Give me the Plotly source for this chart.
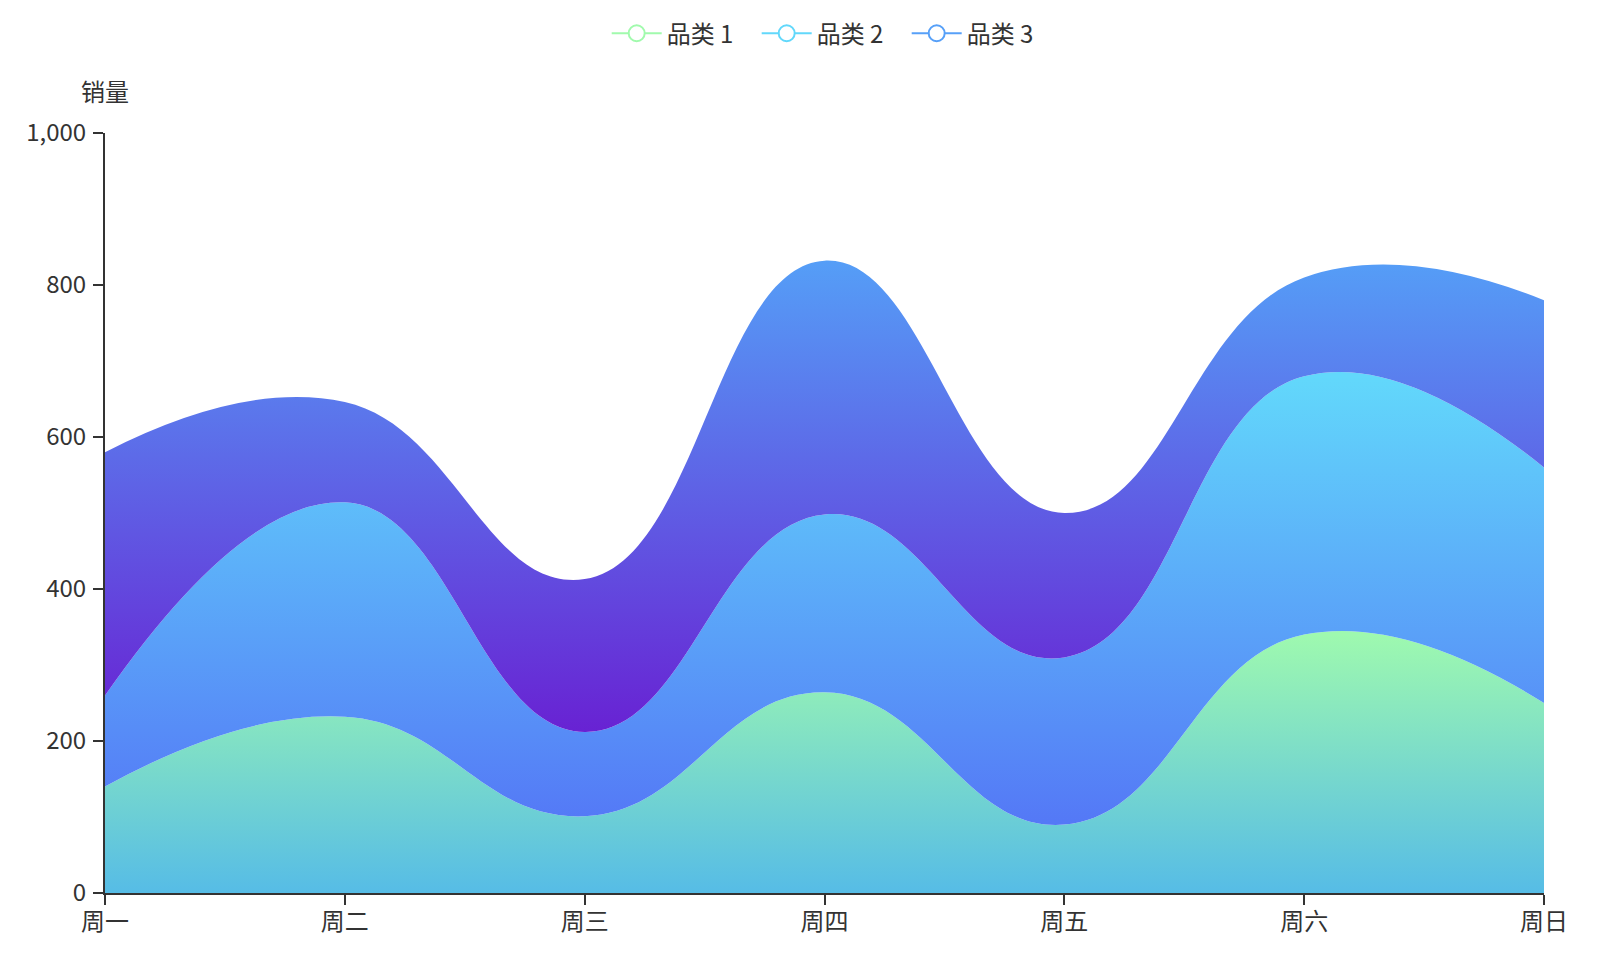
import plotly.graph_objects as go

days = ["周一", "周二", "周三", "周四", "周五", "周六", "周日"]
names = ["品类 1", "品类 2", "品类 3"]
s1 = [140, 232, 101, 264, 90, 340, 250]
s2 = [120, 282, 111, 234, 220, 340, 310]
s3 = [320, 132, 201, 334, 190, 130, 220]
series = [s1, s2, s3]
line_colors = ["rgb(161,250,173)", "rgb(98,216,251)", "rgb(87,160,248)"]
top_colors = ["rgb(158,249,175)", "rgb(98,216,251)", "rgb(85,158,247)"]
bottom_colors = ["rgb(86,188,230)", "rgb(84,120,246)", "rgb(104,34,211)"]
y_ticks = [0, 200, 400, 600, 800, 1000]

FONT = "Noto Sans CJK SC, Noto Sans, sans-serif"
TXT = "#333333"

fig = go.Figure()
lower = [0] * len(days)
for name, vals, top_c, bot_c in zip(names, series, top_colors, bottom_colors):
    upper = [a + b for a, b in zip(lower, vals)]
    fig.add_trace(go.Scatter(
        x=days, y=vals, name=name, stackgroup="one", mode="lines",
        line=dict(width=0, shape="spline", smoothing=1.3),
        fillgradient=dict(type="vertical", start=min(lower), stop=max(upper),
                          colorscale=[[0, bot_c], [1, top_c]]),
        showlegend=False, hoverinfo="skip",
    ))
    lower = upper

for name, c in zip(names, line_colors):
    fig.add_trace(go.Scatter(
        x=[None], y=[None], name=name, mode="lines+markers",
        line=dict(color=c, width=2),
        marker=dict(symbol="circle", size=22, color="white", line=dict(color=c, width=2)),
    ))

fig.update_layout(
    width=1588, height=968,
    margin=dict(l=97, r=52, t=124.7, b=83.3),
    paper_bgcolor="white", plot_bgcolor="white",
    font=dict(family=FONT, size=24, color=TXT),
    showlegend=True,
    legend=dict(orientation="h", x=0.505, xanchor="center",
                y=0.9735, yref="container", yanchor="middle",
                traceorder="normal", itemwidth=50, itemsizing="trace",
                entrywidth=85, entrywidthmode="pixels",
                font=dict(size=24, color=TXT), bgcolor="rgba(0,0,0,0)"),
    xaxis=dict(type="category", range=[0, 6], showgrid=False, zeroline=False,
               showline=True, linecolor=TXT, linewidth=2,
               ticks="outside", ticklen=10, tickwidth=2, tickcolor=TXT,
               ticklabelstandoff=-4,
               tickfont=dict(size=24, color=TXT)),
    yaxis=dict(range=[0, 1000], tickvals=y_ticks, tickformat=",", showgrid=False,
               zeroline=False, showline=True, linecolor=TXT, linewidth=2,
               ticks="outside", ticklen=10, tickwidth=2, tickcolor=TXT,
               ticklabelstandoff=2,
               tickfont=dict(size=24, color=TXT)),
    annotations=[dict(text="销量", x=0, xref="paper", y=1.0562, yref="paper",
                      xanchor="center", yanchor="middle", showarrow=False,
                      font=dict(size=24, color=TXT))],
)

fig.write_html("out.html")
